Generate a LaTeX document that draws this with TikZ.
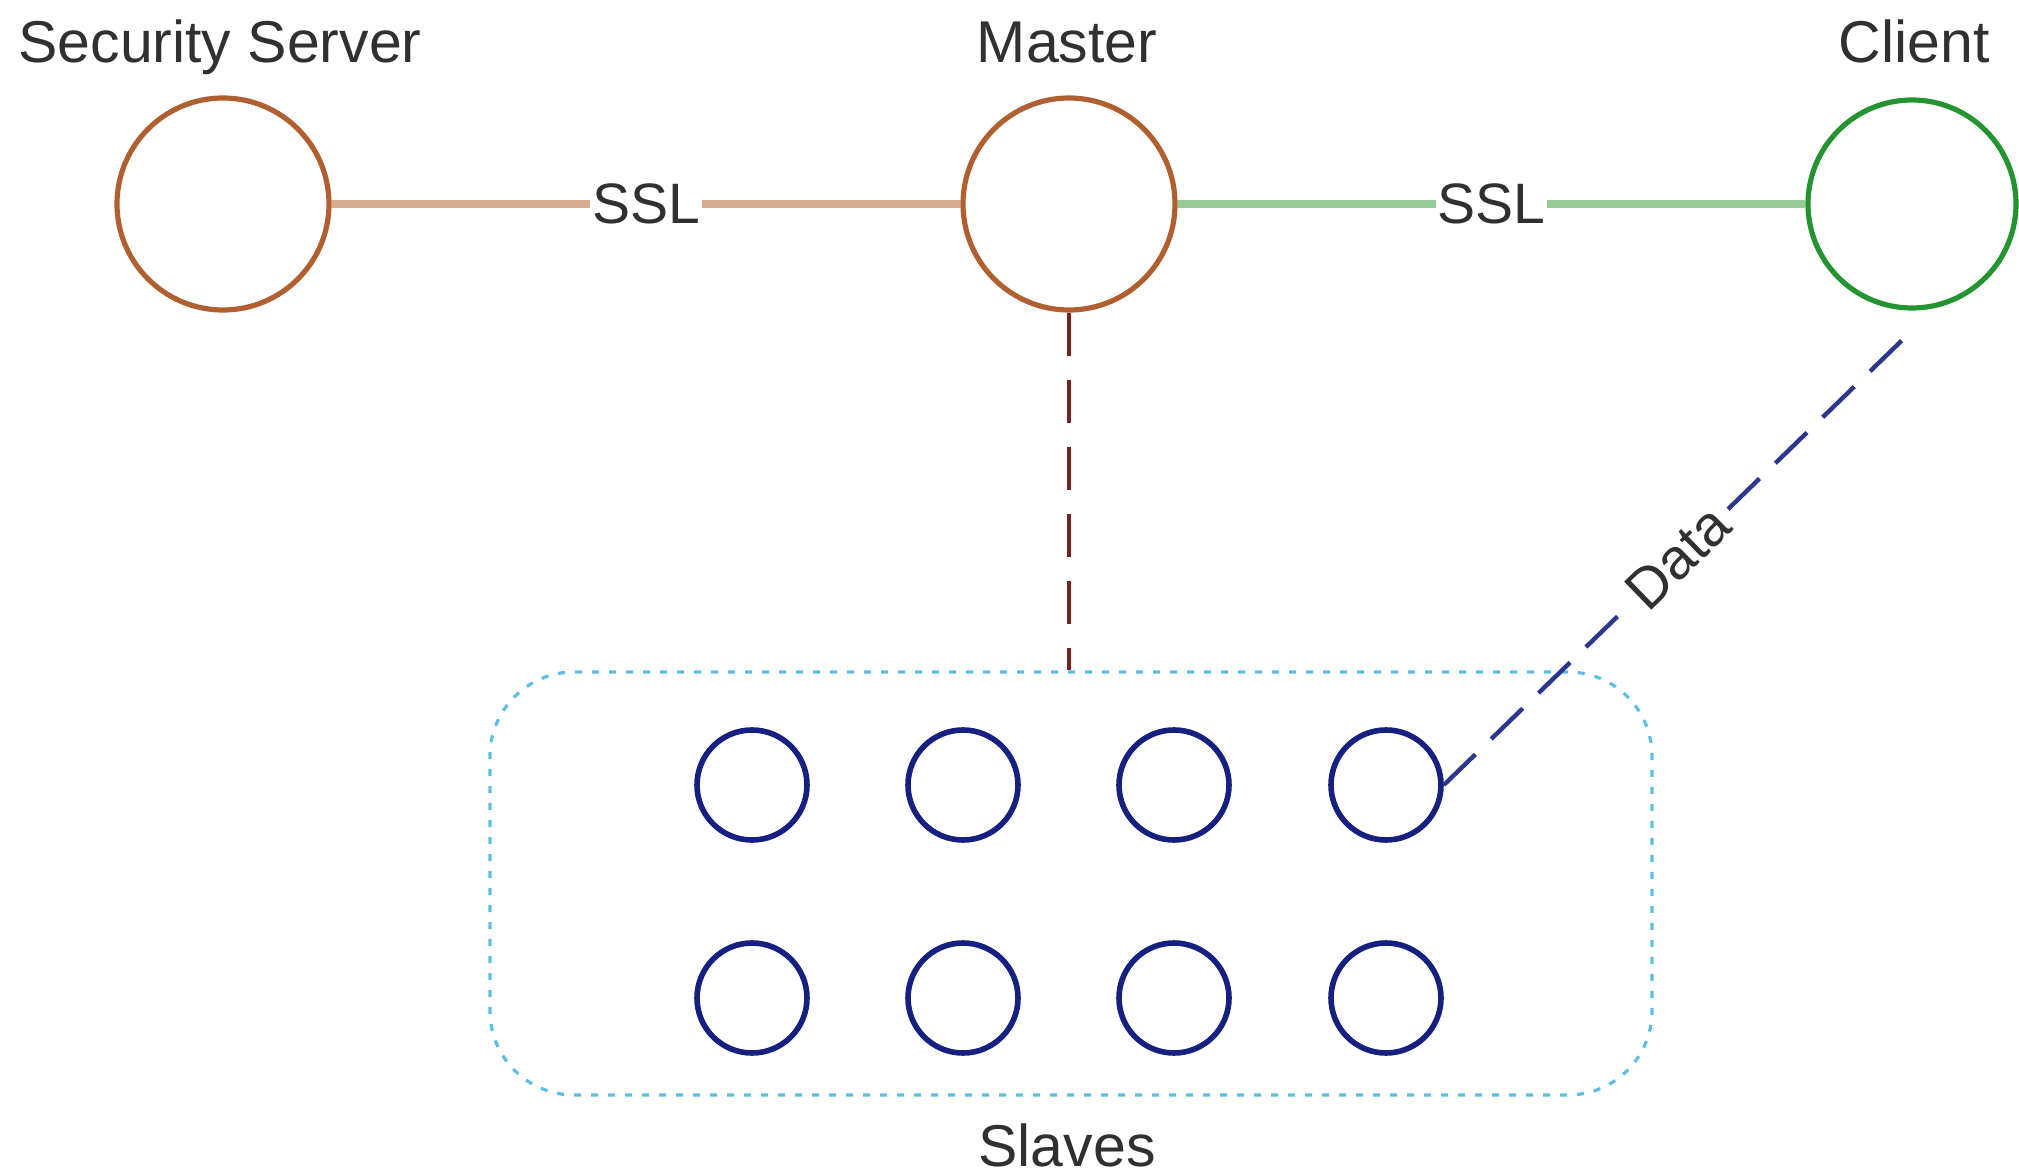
\documentclass[tikz,border=0pt]{standalone}
\usepackage{fontspec}
\setmainfont{Liberation Sans}
\usetikzlibrary{positioning}

\definecolor{secbrown}{RGB}{176,96,48}
\definecolor{sslbrown}{RGB}{216,170,142}
\definecolor{clientgreen}{RGB}{36,148,48}
\definecolor{sslgreen}{RGB}{150,202,150}
\definecolor{ctrlred}{RGB}{118,34,34}
\definecolor{slavenavy}{RGB}{22,32,128}
\definecolor{dataline}{RGB}{44,54,140}
\definecolor{groupblue}{RGB}{92,190,228}
\definecolor{labelgray}{RGB}{48,48,48}

\tikzset{
  hostnode/.style={circle, draw, line width=2.6pt, minimum size=106pt, inner sep=0pt},
  slavenode/.style={circle, draw=slavenavy, line width=2.8pt, minimum size=55pt, inner sep=0pt},
  caption/.style={text=labelgray, font=\fontsize{29.5}{35}\selectfont, inner sep=0pt, anchor=base},
  linklabel/.style={text=labelgray, font=\fontsize{28.5}{34}\selectfont, fill=white, inner xsep=1pt, inner ysep=2pt},
  ssllink/.style={line width=3.6pt},
  ctrllink/.style={draw=ctrlred, line width=2.2pt, dash pattern=on 21.5pt off 12pt},
  datalink/.style={draw=dataline, line width=2.2pt, dash pattern=on 22pt off 11pt},
  groupbox/.style={draw=groupblue, line width=1.6pt, dash pattern=on 3.5pt off 5pt,
    rounded corners=42pt, minimum width=581pt, minimum height=211.5pt, inner sep=0pt}
}

\begin{document}
\begin{tikzpicture}[x=0.5pt, y=-0.5pt]
  \useasboundingbox (0,0) rectangle (2019,1176);

  % hosts
  \node[hostnode, draw=secbrown] (sec) at (223,204) {};
  \node[hostnode, draw=secbrown] (master) at (1069,204) {};
  \node[hostnode, draw=clientgreen, minimum size=104pt] (client) at (1912,204) {};

  \node[caption] (secl) at (220,63) {Security Server};
  \node[caption] (masterl) at (1067,63) {Master};
  \node[caption] (clientl) at (1914,63) {Client};

  % slave group
  \node[groupbox] (group) at (1071,883.5) {};
  \foreach \c/\x in {1/752,2/963,3/1174,4/1386}{
    \node[slavenode] (s\c a) at (\x,785) {};
    \node[slavenode] (s\c b) at (\x,998) {};
  }
  \node[caption] (slavesl) at (1067,1166) {Slaves};

  % links
  \draw[ssllink, draw=sslbrown] (sec) -- node[linklabel] {SSL} (master);
  \draw[ssllink, draw=sslgreen] (master) -- node[linklabel] {SSL} (client);
  \draw[ctrllink] (master.south) -- (master.south |- group.north);
  \draw[datalink] (s4a.east) -- node[linklabel, sloped, inner xsep=2pt] {Data} ([yshift=-10pt]client.south);
\end{tikzpicture}
\end{document}
